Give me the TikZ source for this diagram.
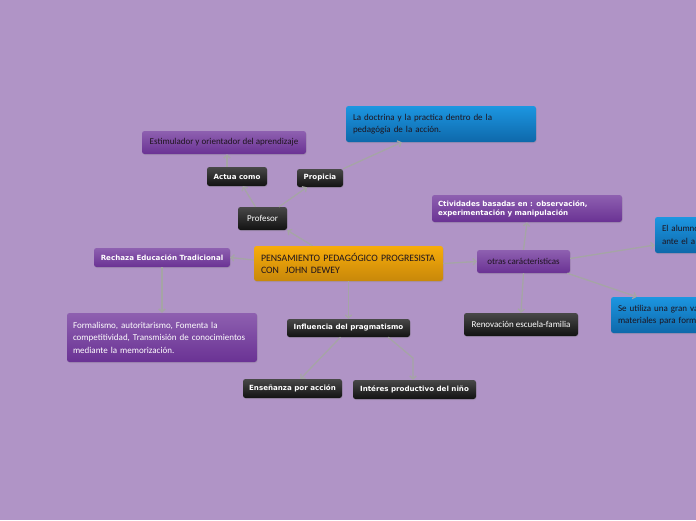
\documentclass[tikz,border=0pt]{standalone}
\usepackage{fontspec}
\setmainfont{Carlito}
\newfontfamily\boldsans{DejaVu Sans}
\usetikzlibrary{arrows.meta,shadows}
\definecolor{bg}{RGB}{176,148,198}
\definecolor{linec}{RGB}{165,165,165}
\definecolor{purtop}{RGB}{142,96,176}
\definecolor{purbot}{RGB}{106,50,148}
\definecolor{blktop}{RGB}{72,72,72}
\definecolor{blkbot}{RGB}{18,18,18}
\definecolor{blutop}{RGB}{28,150,225}
\definecolor{blubot}{RGB}{14,104,170}
\definecolor{ortop}{RGB}{247,172,10}
\definecolor{orbot}{RGB}{200,136,10}
\definecolor{dtext}{RGB}{30,20,30}
\tikzset{
  box/.style={rounded corners=2.5pt, inner sep=0pt, draw=none,
    drop shadow={shadow xshift=0.6pt, shadow yshift=-1pt, opacity=0.25}},
  blackbox/.style={box, top color=blktop, bottom color=blkbot, text=white},
  purplebox/.style={box, top color=purtop, bottom color=purbot},
  bluebox/.style={box, top color=blutop, bottom color=blubot, text=dtext},
  orangebox/.style={box, top color=ortop, bottom color=orbot, text=dtext},
  boldf/.style={font=\boldsans\bfseries\fontsize{7.1}{9}\selectfont},
  handf/.style={font=\fontsize{9}{12.5}\selectfont},
  conn/.style={draw=linec, line width=1.3pt, -{Straight Barb[length=3pt,width=6.5pt,line width=1.3pt]}}
}
\begin{document}
\begin{tikzpicture}[x=1pt,y=-1pt]
\fill[bg] (0,0) rectangle (696,520);
\useasboundingbox (0,0) rectangle (696,520);

% nodes
\node[orangebox, minimum width=189pt, minimum height=35pt, text width=175pt, align=left,
  font=\fontsize{9.8}{12.5}\selectfont] (central) at (348.5,263.5)
  {PENSAMIENTO PEDAGÓGICO PROGRESISTA\\CON\ \ JOHN DEWEY};

\node[blackbox, handf, minimum width=49pt, minimum height=23pt] (profesor) at (262.5,218.5) {Profesor};
\node[blackbox, boldf, minimum width=60pt, minimum height=19pt] (actua) at (237,176.5) {Actua como};
\node[blackbox, boldf, minimum width=46pt, minimum height=18pt] (propicia) at (320,178) {Propicia};
\node[purplebox, handf, text=dtext, minimum width=164pt, minimum height=23pt] (estim) at (224,142.5)
  {Estimulador y orientador del aprendizaje};
\node[bluebox, handf, minimum width=190pt, minimum height=36pt, text width=176pt, align=left] (doctrina) at (441,124)
  {La doctrina y la practica dentro de la\\pedagógía de la acción.};

\node[purplebox, boldf, text=white, minimum width=136pt, minimum height=19pt] (rechaza) at (162,257.5)
  {Rechaza Educación Tradicional};
\node[purplebox, handf, text=white, minimum width=190pt, minimum height=49pt, text width=178pt, align=left] (formal) at (162,337.5)
  {Formalismo, autoritarismo, Fomenta la\\competitividad, Transmisión de conocimientos\\mediante la memorización.};

\node[blackbox, boldf, minimum width=123pt, minimum height=18pt] (infl) at (348.5,328) {Influencia del pragmatismo};
\node[blackbox, boldf, minimum width=99pt, minimum height=19pt] (ensen) at (292.5,388.5) {Enseñanza por acción};
\node[blackbox, boldf, minimum width=123pt, minimum height=19pt] (interes) at (414.5,389.5) {Intéres productivo del niño};
\coordinate (bend) at (413,358);

\node[purplebox, handf, text=dtext, minimum width=93pt, minimum height=23pt] (otras) at (523.5,261.5)
  {otras carácteristicas};
\node[purplebox, boldf, text=white, minimum width=190pt, minimum height=27pt, text width=178pt, align=left] (ctiv) at (527,208.5)
  {Ctividades basadas en : observación,\\experimentación y manipulación};
\node[blackbox, handf, minimum width=114pt, minimum height=23pt] (renov) at (521,324.5) {Renovación escuela-familia};

\begin{scope}
\clip (0,0) rectangle (696,520);
\node[bluebox, handf, minimum width=190pt, minimum height=36pt, text width=176pt, align=left] (alumno) at (750,235)
  {El alumno\\ante el a};
\node[bluebox, handf, minimum width=190pt, minimum height=36pt, text width=176pt, align=left] (seutil) at (706,315)
  {Se utiliza una gran va\\materiales para form};
\end{scope}

% connectors
\draw[conn] ([xshift=-36pt]central.north) -- (profesor.south east);
\draw[conn] (profesor) -- (actua);
\draw[conn] (profesor) -- (propicia);
\draw[conn] ([xshift=-10pt]actua.north) -- ([xshift=3pt]estim.south);
\draw[conn] (propicia.north east) -- ([xshift=56pt]doctrina.south west);
\draw[conn] ([yshift=3.5pt]central.west) -- (rechaza.east);
\draw[conn] (rechaza.south) -- (formal.north);
\draw[conn] (central.south) -- (infl.north);
\draw[conn] ([xshift=-8pt]infl.south) -- ([xshift=8pt]ensen.north);
\draw[conn] ([xshift=-22pt]infl.south east) -- (bend) -- (interes.north -| bend);
\draw[conn] (central.east) -- (otras.west);
\draw[conn] (otras.north) -- (ctiv.south);
\draw[conn] (otras.south) -- (renov.north);
\draw[conn] ([yshift=3pt]otras.east) -- ([yshift=-10pt]alumno.west);
\draw[conn] ([xshift=-3pt]otras.south east) -- ([xshift=26pt]seutil.north west);
\end{tikzpicture}
\end{document}
